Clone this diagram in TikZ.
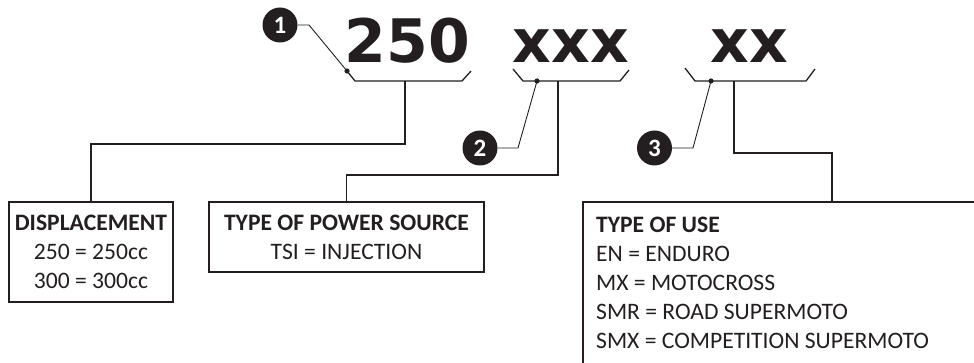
\documentclass[tikz,border=0pt]{standalone}
\usepackage{fontspec}
\setmainfont{Carlito}
\newfontfamily\codefont{DejaVu Sans}
\definecolor{ink}{HTML}{231F20}

\begin{document}
\begin{tikzpicture}[x=1pt,y=-1pt,
    code/.style={font=\codefont\bfseries\fontsize{60}{60}\selectfont,text=ink,anchor=base,inner sep=0pt},
    numdot/.style={circle,fill=ink,text=white,minimum size=35pt,inner sep=0pt,font=\bfseries\fontsize{25}{25}\selectfont},
    infobox/.style={draw=ink,line width=1.6pt,align=center,inner sep=0pt,font=\fontsize{23.6}{29}\selectfont,text=ink},
    stem/.style={draw=ink,line width=1.6pt},
    leader/.style={draw=ink,line width=0.9pt},
    brace/.style={draw=ink,line width=1.3pt}]
    \useasboundingbox (0,0) rectangle (974,363);
    \clip (0,0) rectangle (974,363);
    % code parts
    \node[code] (n250) at (407.5,63) {250};
    \node[code] (nxxx) at (571,63) {xxx};
    \node[code] (nxx) at (749,63) {xx};
    % brackets under the code
    \draw[brace] (347,71) -- (355,81) -- (462,81) -- (471,71);
    \draw[brace] (513,69) -- (523,81) -- (620,81) -- (629,70);
    \draw[brace] (685,68) -- (695,81) -- (806,81) -- (815,69);
    \coordinate (b1) at (405,81);
    \coordinate (b2) at (558,81);
    \coordinate (b3) at (734,81);
    \coordinate (d1) at (347,71);
    \coordinate (d2) at (537,81);
    \coordinate (d3) at (711,81);
    \foreach \d in {d1,d2,d3} \fill[ink] (\d) circle (2.6pt);
    % numbers
    \node[numdot] (c1) at (280,25) {1};
    \node[numdot] (c2) at (480,148) {2};
    \node[numdot] (c3) at (654.5,148) {3};
    \draw[leader] (c1.east) -- (309,25) -- (d1);
    \draw[leader] (c2.east) -- (518,148) -- (d2);
    \draw[leader] (c3.east) -- (693,148) -- (d3);
    % boxes
    \node[infobox,minimum width=164pt,minimum height=100pt] (box1) at (91,252)
      {\textbf{DISPLACEMENT}\\250 = 250cc\\300 = 300cc};
    \node[infobox,minimum width=275pt,minimum height=70pt] (box2) at (346.5,237)
      {\textbf{TYPE OF POWER SOURCE}\\TSI = INJECTION};
    \node[align=left,anchor=north west,inner xsep=13pt,inner ysep=15pt,
      font=\fontsize{23.6}{29}\selectfont,text=ink] (box3) at (583,202)
      {\textbf{TYPE OF USE}\\EN = ENDURO\\MX = MOTOCROSS\\SMR = ROAD SUPERMOTO\\SMX = COMPETITION SUPERMOTO};
    \draw[stem] ([yshift=-60pt]box3.south west) -- (box3.north west) -- ++(420,0);
    \coordinate (u3) at (832,202);
    % stems
    \draw[stem] (b1) -- ++(0,63) -| (box1.north);
    \draw[stem] (b2) -- ++(0,94) -| (box2.north);
    \draw[stem] (b3) -- ++(0,72) -| (u3);
\end{tikzpicture}
\end{document}
